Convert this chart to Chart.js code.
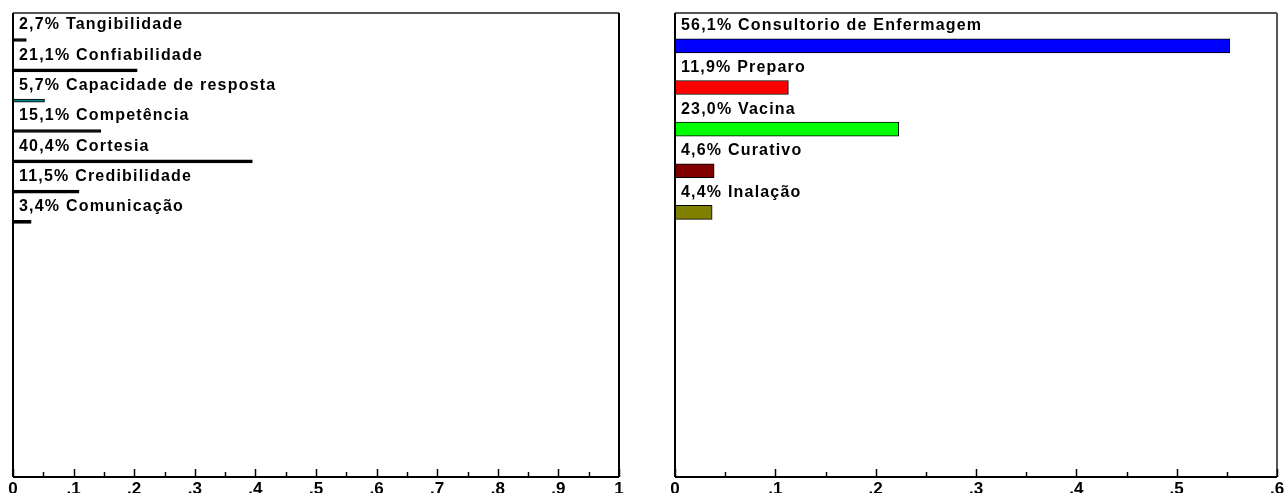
<!DOCTYPE html>
<html>
<head>
<meta charset="utf-8">
<script src="https://cdn.jsdelivr.net/npm/chart.js@4"></script>
<style>
  html, body { margin: 0; padding: 0; background: #fff; }
  #left { position: absolute; left: 0; top: 0; width: 645px; height: 493px; }
  #right { position: absolute; left: 645px; top: 0; width: 642px; height: 493px; }
</style>
</head>
<body>
<div id="left"><canvas id="leftChart"></canvas></div>
<div id="right"><canvas id="rightChart"></canvas></div>
<script>
// left panel
const leftCategories = ["Tangibilidade", "Confiabilidade", "Capacidade de resposta", "Competência", "Cortesia", "Credibilidade", "Comunicação"];
const leftPercent = ["2,7%", "21,1%", "5,7%", "15,1%", "40,4%", "11,5%", "3,4%"];
const leftValues = [0.022, 0.205, 0.052, 0.145, 0.395, 0.109, 0.030];
const leftColors = ["#000000", "#000000", "#008080", "#000000", "#000000", "#000000", "#000000"];

// right panel
const rightCategories = ["Consultorio de Enfermagem", "Preparo", "Vacina", "Curativo", "Inalação"];
const rightPercent = ["56,1%", "11,9%", "23,0%", "4,6%", "4,4%"];
const rightValues = [0.553, 0.113, 0.223, 0.039, 0.037];
const rightColors = ["#0000ff", "#ff0000", "#00ff00", "#800000", "#808000"];

const leftTicks = 1;
const rightTicks = 0.6;

function tickLabel(v) {
  const n = Math.round(v * 20);
  if (n % 2 !== 0) return "";
  if (n === 0) return "0";
  if (n === 20) return "1";
  return "." + n / 2;
}

// draws frame, inward tick marks and the text above each bar
function panelPlugin(labels, textDy, rightBorder) {
  return {
    id: "panel",
    afterDatasetsDraw(chart) {
      const ctx = chart.ctx;
      const { left, right, top, bottom } = chart.chartArea;
      const xs = chart.scales.x;
      ctx.save();

      ctx.font = "bold 16px 'Liberation Sans', Arial, sans-serif";
      ctx.letterSpacing = "1.2px";
      ctx.fillStyle = "#000";
      ctx.textBaseline = "middle";
      chart.getDatasetMeta(0).data.forEach((bar, i) => {
        ctx.fillText(labels[i], left + 6, bar.y - textDy);
      });

      // frame
      ctx.lineWidth = 2;
      ctx.strokeStyle = "#555";
      ctx.beginPath();
      ctx.moveTo(left, top);
      ctx.lineTo(right, top);
      ctx.stroke();
      ctx.strokeStyle = rightBorder;
      ctx.beginPath();
      ctx.moveTo(right, top);
      ctx.lineTo(right, bottom);
      ctx.stroke();
      ctx.strokeStyle = "#000";
      ctx.beginPath();
      ctx.moveTo(left, top);
      ctx.lineTo(left, bottom);
      ctx.moveTo(left, bottom);
      ctx.lineTo(right, bottom);
      ctx.stroke();

      // tick marks pointing up into the plot
      ctx.lineWidth = 1.5;
      xs.ticks.forEach((t) => {
        const x = Math.round(xs.getPixelForValue(t.value)) + 0.5;
        const major = Math.round(t.value * 20) % 2 === 0;
        ctx.beginPath();
        ctx.moveTo(x, bottom);
        ctx.lineTo(x, bottom - (major ? 8 : 5));
        ctx.stroke();
      });
      ctx.restore();
    },
  };
}

function makeChart(id, cats, pct, values, colors, xMax, yMax, firstRow, thickness, pad, textDy, rightBorder) {
  const points = values.map((v, i) => ({ x: v, y: firstRow + i }));
  const labels = cats.map((c, i) => pct[i] + " " + c);
  return new Chart(document.getElementById(id), {
    type: "bar",
    data: {
      datasets: [
        {
          label: "",
          data: points,
          backgroundColor: colors,
          borderColor: "#000",
          borderWidth: 1,
          borderSkipped: false,
          barThickness: thickness,
        },
      ],
    },
    options: {
      indexAxis: "y",
      responsive: true,
      maintainAspectRatio: false,
      animation: false,
      layout: { padding: pad },
      scales: {
        x: {
          type: "linear",
          min: 0,
          max: xMax,
          afterFit: (scale) => {
            scale.height = 16;
          },
          grid: { display: false, drawTicks: false },
          border: { display: false },
          ticks: {
            stepSize: 0.05,
            autoSkip: false,
            maxRotation: 0,
            padding: 2,
            color: "#000",
            font: { family: "'Liberation Sans', Arial, sans-serif", size: 17, weight: "bold" },
            callback: (v) => tickLabel(v),
          },
        },
        y: {
          type: "linear",
          reverse: true,
          offset: false,
          min: 0,
          max: yMax,
          display: false,
        },
      },
      plugins: {
        legend: { display: false },
        tooltip: { enabled: false },
      },
    },
    plugins: [panelPlugin(labels, textDy, rightBorder)],
  });
}

makeChart("leftChart", leftCategories, leftPercent, leftValues, leftColors,
  leftTicks, 15.3, 0.89, 3, { left: 13, top: 13, right: 26, bottom: 0 }, 15, "#000");

makeChart("rightChart", rightCategories, rightPercent, rightValues, rightColors,
  rightTicks, 11.15, 0.79, 14, { left: 30, top: 13, right: 10, bottom: 0 }, 20, "#555");
</script>
</body>
</html>
